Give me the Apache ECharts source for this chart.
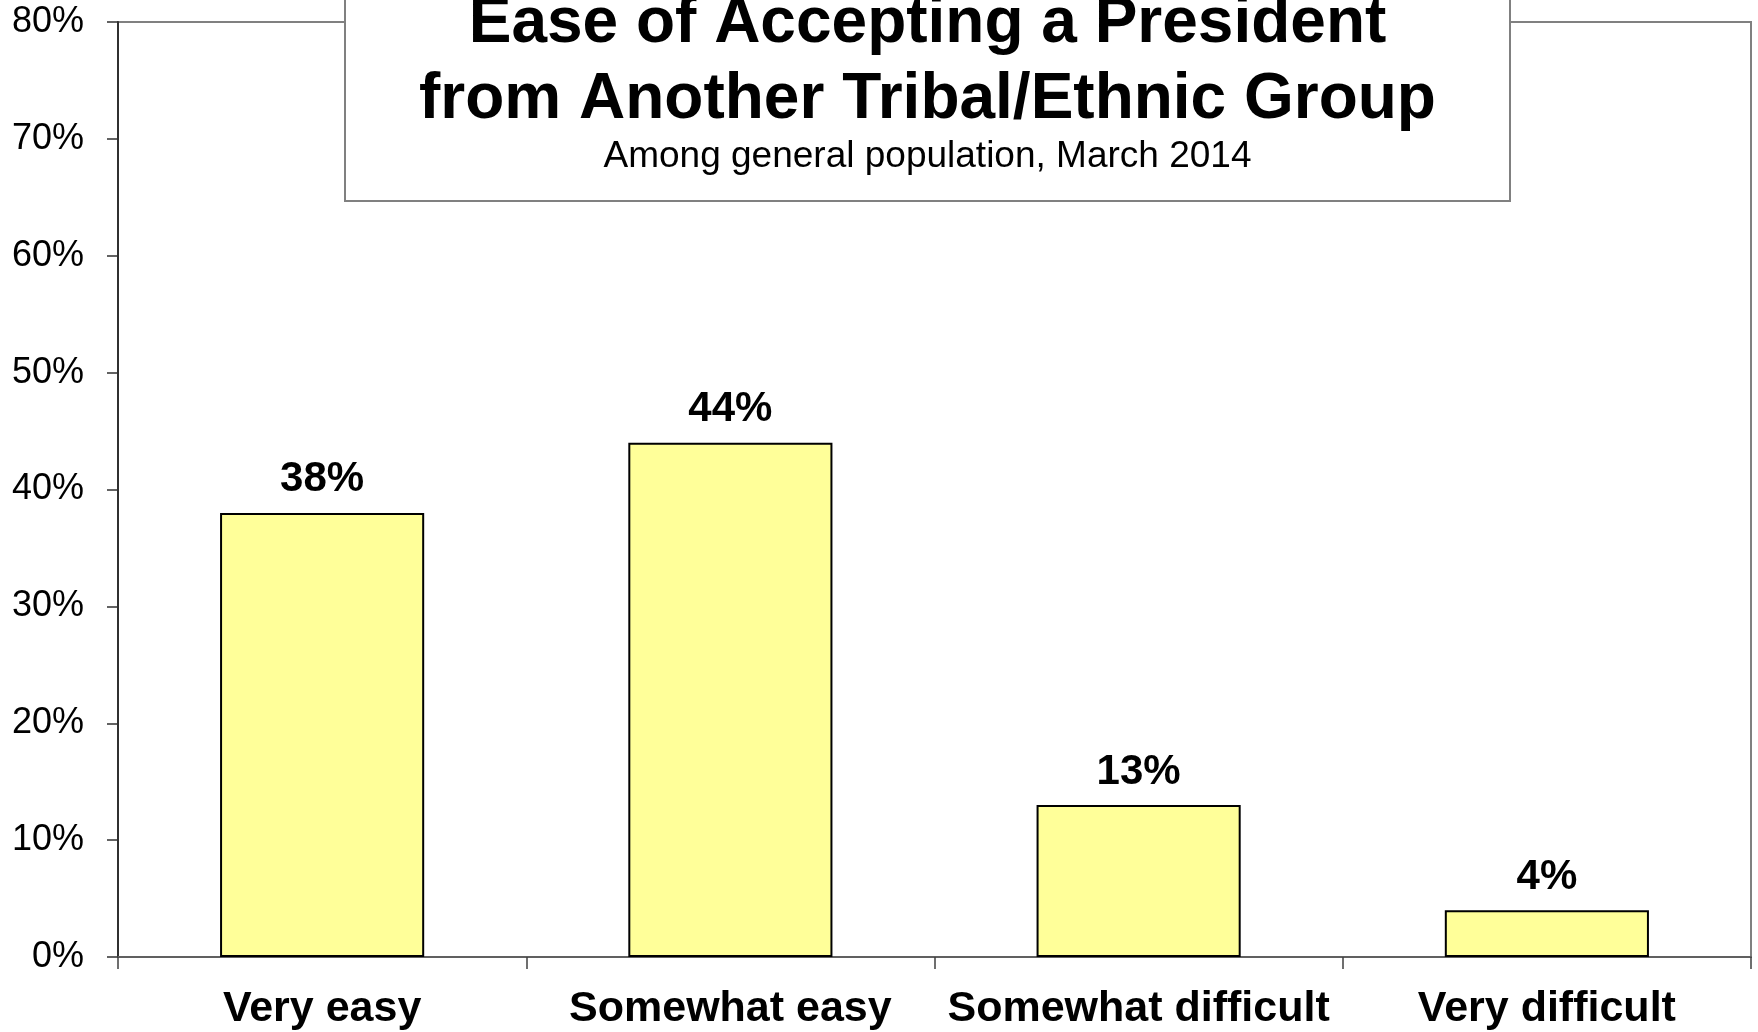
<!DOCTYPE html>
<html>
<head>
<meta charset="utf-8">
<script src="https://cdn.jsdelivr.net/npm/echarts@6/dist/echarts.min.js"></script>
<style>
html,body{margin:0;padding:0;background:#fff;}
#chart{width:1758px;height:1032px;}
</style>
</head>
<body>
<div id="chart"></div>
<script>
var categories = ['Very easy', 'Somewhat easy', 'Somewhat difficult', 'Very difficult'];
var values = [38, 44, 13, 4];
var yTicks = {min: 0, max: 80, interval: 10};
var titleLines = ['Ease of Accepting a President', 'from Another Tribal/Ethnic Group'];
var subtitleText = 'Among general population, March 2014';

var FONT = '"Liberation Sans", Arial, sans-serif';
var chart = echarts.init(document.getElementById('chart'), null, {renderer: 'canvas'});
chart.setOption({
  animation: false,
  backgroundColor: '#ffffff',
  grid: {
    left: 118, right: 7, top: 22, bottom: 75,
    show: true, borderColor: '#808080', borderWidth: 2, backgroundColor: 'transparent'
  },
  title: {
    text: titleLines.join('\n'),
    subtext: subtitleText,
    left: 927.5,
    textAlign: 'center',
    top: -14,
    itemGap: 0,
    padding: 0,
    z: 20,
    textStyle: {fontFamily: FONT, fontWeight: 'bold', fontSize: 64, lineHeight: 76, color: '#000'},
    subtextStyle: {fontFamily: FONT, fontWeight: 'normal', fontSize: 37, lineHeight: 37, color: '#000'}
  },
  graphic: [{
    type: 'rect',
    z: 10,
    shape: {x: 345, y: -10, width: 1165, height: 211},
    style: {fill: '#ffffff', stroke: '#808080', lineWidth: 2}
  }],
  xAxis: {
    type: 'category',
    data: categories,
    axisLine: {show: true, lineStyle: {color: '#606060', width: 2}},
    axisTick: {show: true, length: 12, lineStyle: {color: '#404040', width: 1.5}},
    axisLabel: {
      fontFamily: FONT, fontWeight: 'bold', fontSize: 43, color: '#000', margin: 31, interval: 0
    },
    splitLine: {show: false}
  },
  yAxis: {
    type: 'value',
    min: yTicks.min, max: yTicks.max, interval: yTicks.interval,
    axisLine: {show: true, lineStyle: {color: '#303030', width: 2}},
    axisTick: {show: true, length: 11, lineStyle: {color: '#303030', width: 1.5}},
    axisLabel: {
      fontFamily: FONT, fontSize: 36, color: '#000', margin: 34,
      formatter: '{value}%'
    },
    splitLine: {show: false}
  },
  series: [{
    type: 'bar',
    data: values,
    barWidth: '50%',
    itemStyle: {color: '#FFFF99', borderColor: '#000', borderWidth: 2},
    label: {
      show: true, position: 'top', distance: 12,
      fontFamily: FONT, fontWeight: 'bold', fontSize: 42, color: '#000',
      formatter: '{c}%'
    }
  }]
});
</script>
</body>
</html>
